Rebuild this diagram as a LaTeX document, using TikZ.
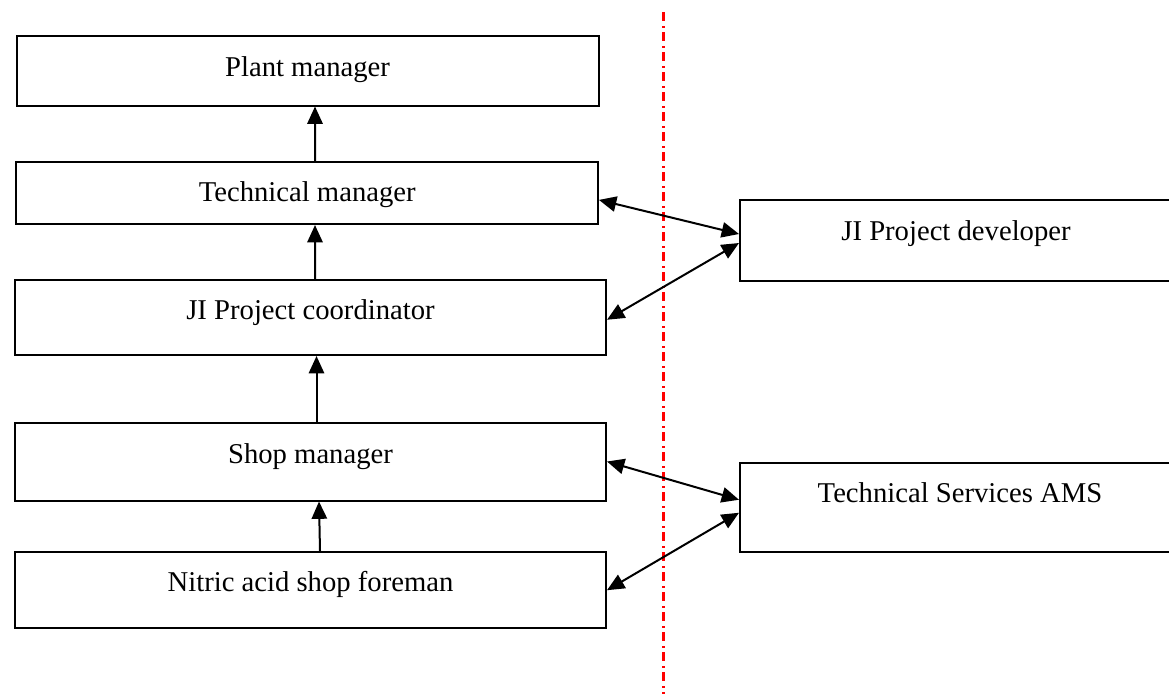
\documentclass[tikz,border=0pt]{standalone}
\usepackage{fontspec}
\setmainfont{Liberation Serif}
\usetikzlibrary{arrows.meta,calc}
\definecolor{sepred}{RGB}{255,0,0}
\begin{document}
\begin{tikzpicture}[x=0.75pt,y=-0.75pt,
 box/.style={draw,line width=1.5pt,rectangle,inner sep=0pt},
 lbl/.style={anchor=base,inner sep=0pt,font=\fontsize{21.5}{25}\selectfont},
 arr/.style={line width=1.5pt,-{Triangle[length=13pt,width=11.5pt]}},
 darr/.style={line width=1.5pt,{Triangle[length=13pt,width=11.5pt]}-{Triangle[length=13pt,width=11.5pt]}},
 sepline/.style={draw=sepred,line width=1.7pt,dash pattern=on 7pt off 3.5pt on 1.5pt off 3pt}]
\useasboundingbox (0,0) rectangle (1169,694);
% boxes
\node[box,minimum width=436.5pt,minimum height=52.5pt] (pm) at (307.5,70.5) {};
\node[box,minimum width=436.1pt,minimum height=46.7pt] (tm) at (307.2,192.9) {};
\node[box,minimum width=443.25pt,minimum height=55.9pt] (jc) at (310.5,317.75) {};
\node[box,minimum width=443.25pt,minimum height=58.5pt] (sm) at (310.5,461.5) {};
\node[box,minimum width=443.25pt,minimum height=57.4pt] (fm) at (310.5,590.2) {};
\node[box,minimum width=326.25pt,minimum height=60.75pt] (jd) at (957.5,240) {};
\node[box,minimum width=326.25pt,minimum height=67.1pt] (ams) at (957.5,507.75) {};
% labels
\node[lbl] (pmt) at (307.5,76) {Plant manager};
\node[lbl] (tmt) at (307.2,201) {Technical manager};
\node[lbl] (jct) at (310.5,319) {JI Project coordinator};
\node[lbl] (smt) at (310.5,463) {Shop manager};
\node[lbl] (fmt) at (310.5,591) {Nitric acid shop foreman};
\node[lbl] (jdt) at (956,240) {JI Project developer};
\node[lbl] (amst) at (960,502) {Technical Services AMS};
% separator
\draw[sepline] (663.5,12) -- (663.5,694);
% vertical arrows
\draw[arr] ($(tm.north)+(7.8,0)$) -- ($(pm.south)+(7.5,0)$);
\draw[arr] ($(jc.north)+(4.5,0)$) -- ($(tm.south)+(7.8,0)$);
\draw[arr] ($(sm.north)+(6,0)$) -- ($(jc.south)+(6,0)$);
\draw[arr] ($(fm.north)+(9.5,0)$) -- ($(sm.south)+(8.5,0)$);
% double arrows
\draw[darr] ($(tm.east)+(0,7)$) -- ($(jd.west)+(0,-6)$);
\draw[darr] ($(jc.east)+(0,2)$) -- ($(jd.west)+(0,3)$);
\draw[darr] (sm.east) -- ($(ams.west)+(0,-8)$);
\draw[darr] (fm.east) -- ($(ams.west)+(0,5)$);
\end{tikzpicture}
\end{document}
